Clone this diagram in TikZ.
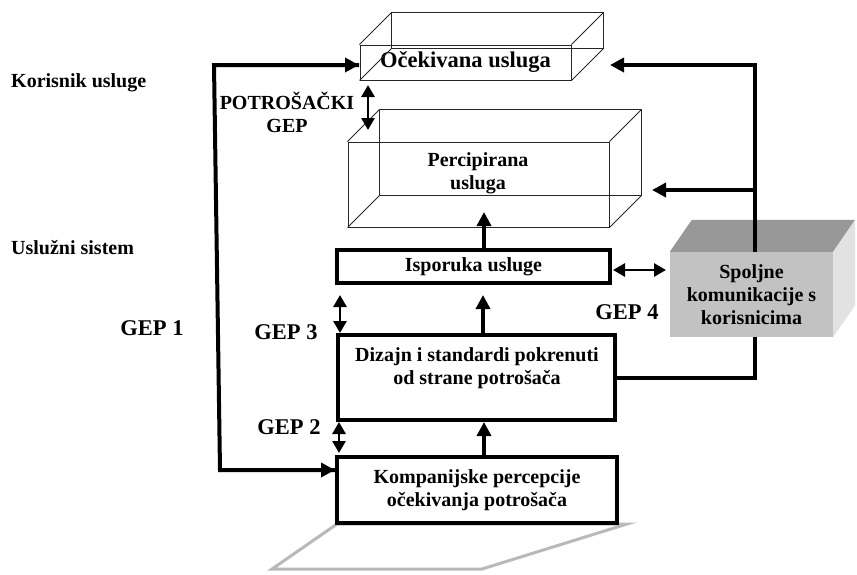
\documentclass[tikz,border=0pt]{standalone}
\usepackage{fontspec}
\setmainfont{Liberation Serif}
\usetikzlibrary{arrows.meta,calc}
\definecolor{spfront}{RGB}{194,194,194}
\definecolor{sptop}{RGB}{152,152,152}
\definecolor{spside}{RGB}{226,226,226}
\definecolor{shadowgray}{RGB}{185,185,185}
\begin{document}
\begin{tikzpicture}[x=1pt,y=-1pt,
  txt/.style={font=\fontsize{20}{23}\selectfont\bfseries, align=center, inner sep=0pt},
  bigtxt/.style={font=\fontsize{22.5}{25}\selectfont\bfseries, align=center, inner sep=0pt},
  wire/.style={draw=black!85, line width=0.9pt},
  thickbox/.style={draw, line width=4.8pt, fill=white, inner sep=0pt},
  conn/.style={line width=4pt, -{Triangle[length=14pt,width=14pt]}},
  link/.style={line width=4pt},
  dbl/.style={line width=2.8pt, {Triangle[length=12pt,width=13pt]}-{Triangle[length=12pt,width=13pt]}},
]
\useasboundingbox (0,0) rectangle (857,574);

% Ocekivana usluga (wireframe box)
\node[wire, minimum width=211pt, minimum height=35pt, inner sep=0pt, bigtxt] (oce) at (465.5,62.5) {Očekivana usluga};
\draw[wire] ($(oce.north west)+(32,-32)$) rectangle ($(oce.south east)+(32,-32)$);
\foreach \c in {north west,north east,south west,south east}
  \draw[wire] (oce.\c) -- ++(32,-32);

% Percipirana usluga (wireframe box)
\node[wire, minimum width=261pt, minimum height=85pt, inner sep=0pt] (perc) at (478.5,184.5) {};
\draw[wire] ($(perc.north west)+(32,-32)$) rectangle ($(perc.south east)+(32,-32)$);
\foreach \c in {north west,north east,south west,south east}
  \draw[wire] (perc.\c) -- ++(32,-32);
\node[txt] (percl) at (478,173) {Percipirana\\usluga};

% Spoljne komunikacije (gray solid box)
\node[fill=spfront, minimum width=163pt, minimum height=85pt, txt] (spo) at (751.5,294.5) {Spoljne\\komunikacije s\\korisnicima};
\fill[sptop] (spo.north west) -- ++(22,-32) -- ($(spo.north east)+(22,-32)$) -- (spo.north east) -- cycle;
\fill[spside] (spo.north east) -- ++(22,-32) -- ($(spo.south east)+(22,-32)$) -- (spo.south east) -- cycle;

% gray floor under Kompanijske
\draw[shadowgray, line width=3pt] (337,524) -- (627,524) -- (482,569) -- (272,569) -- cycle;

% thick boxes
\node[thickbox, minimum width=273pt, minimum height=33pt, txt] (isp) at (473.5,266.5) {Isporuka usluge};
\node[thickbox, minimum width=277pt, minimum height=85pt] (diz) at (476.5,377.5) {};
\node[txt] (dizl) at (477,368) {Dizajn i standardi pokrenuti\\od strane potrošača};
\node[thickbox, minimum width=280pt, minimum height=66pt, txt] (komp) at (477,490) {Kompanijske percepcije\\očekivanja potrošača};

% side labels
\node[txt, anchor=west] (kor) at (11,83) {Korisnik usluge};
\node[txt, anchor=west] (usl) at (11,248) {Uslužni sistem};
\node[txt] (potr) at (287,112) {POTROŠAČKI\\GEP};
\node[bigtxt] (gep1) at (152,328) {GEP 1};
\node[bigtxt] (gep3) at (286,332) {GEP 3};
\node[bigtxt] (gep2) at (289,427) {GEP 2};
\node[bigtxt] (gep4) at (627,312) {GEP 4};

% left loop (GEP 1)
\coordinate (l1) at (214,65);
\coordinate (l2) at (220,470);
\coordinate (lt1) at (359,65);
\coordinate (lt2) at (335,470);
\draw[link, line join=miter] (lt1) -- (l1) -- (l2) -- (lt2);
\draw[conn] (l1) -- (lt1);
\draw[conn] (l2) -- (lt2);

% right feedback from Spoljne
\coordinate (r1) at (755,65);
\coordinate (r2) at (755,190);
\coordinate (t1) at (610,65);
\coordinate (t2) at (652,190);
\draw[link] (spo.north -| r1) -- (r1);
\draw[conn] ($(r1)+(2,0)$) -- (t1);
\draw[conn] ($(r2)+(2,0)$) -- (t2);
\draw[link] (spo.south -| r1) |- (diz.east);

% upward flow arrows
\coordinate (u1) at (484,212);
\coordinate (u2) at (483,295);
\coordinate (u3) at (484,422);
\draw[conn] (isp.north -| u1) -- (u1);
\draw[conn] (diz.north -| u2) -- (u2);
\draw[conn] (komp.north -| u3) -- (u3);

% gap double arrows
\coordinate (pa) at (368,85);
\coordinate (pb) at (368,130);
\draw[dbl] (pa) -- (pb);
\coordinate (g3a) at (340,295);
\coordinate (g3b) at (340,333);
\draw[dbl] (g3a) -- (g3b);
\coordinate (g2a) at (339,422);
\coordinate (g2b) at (339,453);
\draw[dbl] (g2a) -- (g2b);
\coordinate (g4a) at (613,270);
\coordinate (g4b) at (666,270);
\draw[dbl] (g4a) -- (g4b);
\end{tikzpicture}
\end{document}
